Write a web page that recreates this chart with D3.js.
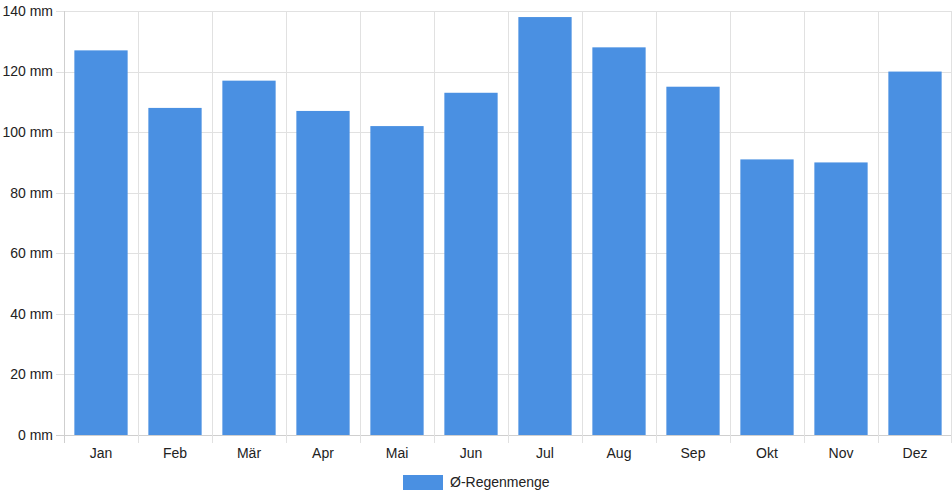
<!DOCTYPE html>
<html>
<head>
<meta charset="utf-8">
<script src="https://cdn.jsdelivr.net/npm/d3@7"></script>
<style>
  body { margin: 0; background: #fff; }
  svg text { font-family: "Liberation Sans", Arial, sans-serif; fill: #222; }
</style>
</head>
<body>
<div id="chart"></div>
<script>
// Monate und durchschnittliche Regenmenge (mm)
const months = ['Jan', 'Feb', 'Mär', 'Apr', 'Mai', 'Jun', 'Jul', 'Aug', 'Sep', 'Okt', 'Nov', 'Dez'];
const rain = [127, 108, 117, 107, 102, 113, 138, 128, 115, 91, 90, 120];
const yTicks = [0, 20, 40, 60, 80, 100, 120, 140];
const seriesName = 'Ø-Regenmenge';

const width = 952, height = 500;
const margin = { top: 11, right: 0, bottom: 65, left: 64 };
const barColor = '#4a90e2';
const gridColor = '#e1e1e1';

const svg = d3.select('#chart').append('svg')
    .attr('width', width)
    .attr('height', height);

const x = d3.scaleBand()
    .domain(months)
    .range([margin.left, width - margin.right])
    .paddingInner(0)
    .paddingOuter(0);

const y = d3.scaleLinear()
    .domain([0, 140])
    .range([height - margin.bottom, margin.top]);

// Gitterlinien horizontal (mit Tick nach links)
svg.append('g')
    .selectAll('line')
    .data(yTicks)
    .enter().append('line')
    .attr('x1', margin.left - 8)
    .attr('x2', width - margin.right)
    .attr('y1', d => Math.round(y(d)) + 0.5)
    .attr('y2', d => Math.round(y(d)) + 0.5)
    .attr('stroke', d => d === 0 ? '#cfcfcf' : gridColor);

// Gitterlinien vertikal (mit Tick nach unten)
const xLines = months.map(m => x(m)).concat([width - margin.right - 1]);
svg.append('g')
    .selectAll('line')
    .data(xLines)
    .enter().append('line')
    .attr('x1', d => Math.round(d) + 0.5)
    .attr('x2', d => Math.round(d) + 0.5)
    .attr('y1', margin.top)
    .attr('y2', height - margin.bottom + 8)
    .attr('stroke', (d, i) => i === 0 ? '#cfcfcf' : gridColor);

// Y-Achsenbeschriftung
svg.append('g')
    .selectAll('text')
    .data(yTicks)
    .enter().append('text')
    .attr('x', margin.left - 11)
    .attr('y', d => y(d))
    .attr('dy', '0.35em')
    .attr('text-anchor', 'end')
    .style('font-size', '14px')
    .text(d => d + ' mm');

// X-Achsenbeschriftung
svg.append('g')
    .selectAll('text')
    .data(months)
    .enter().append('text')
    .attr('x', d => x(d) + x.bandwidth() / 2)
    .attr('y', height - margin.bottom + 18)
    .attr('dy', '0.35em')
    .attr('text-anchor', 'middle')
    .style('font-size', '14px')
    .text(d => d);

// Balken (Kategorie 0.8, Balken 0.9 wie bei Chart.js)
const barW = x.bandwidth() * 0.72;
svg.append('g')
    .selectAll('rect')
    .data(rain)
    .enter().append('rect')
    .attr('x', (d, i) => x(months[i]) + (x.bandwidth() - barW) / 2)
    .attr('y', d => y(d))
    .attr('width', barW)
    .attr('height', d => y(0) - y(d))
    .attr('fill', barColor);

// Legende
const legend = svg.append('g');
legend.append('rect')
    .attr('x', 403)
    .attr('y', 475)
    .attr('width', 40)
    .attr('height', 15)
    .attr('fill', barColor);
legend.append('text')
    .attr('x', 450)
    .attr('y', 482.5)
    .attr('dy', '0.35em')
    .style('font-size', '14px')
    .text(seriesName);
</script>
</body>
</html>
